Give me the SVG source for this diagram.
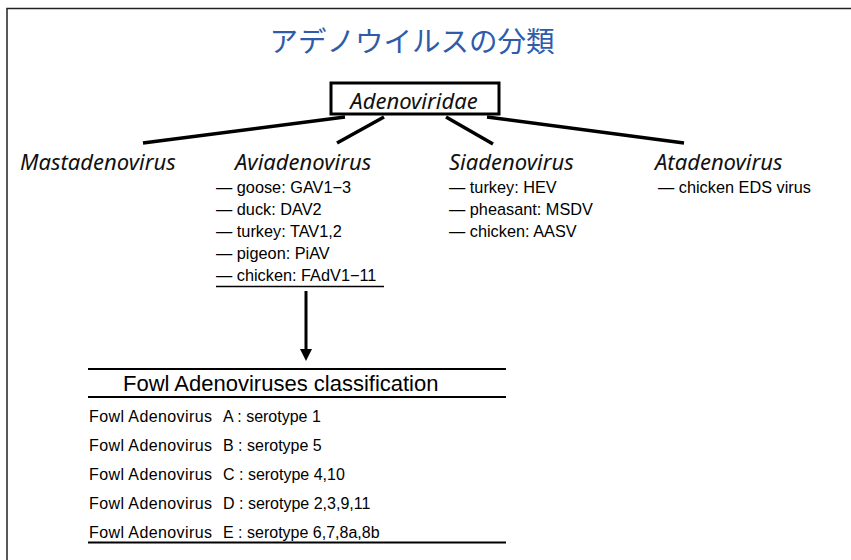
<svg xmlns="http://www.w3.org/2000/svg" width="851" height="560" viewBox="0 0 851 560">
<style>
.title{font-family:"Noto Sans CJK JP","Noto Sans",sans-serif;font-size:28.5px;fill:#2F5BAA}
.genus{font-family:"Noto Sans","Open Sans",sans-serif;font-style:italic;font-size:22px;fill:#111}
.item{font-family:"Liberation Sans",Arial,sans-serif;font-size:16.3px;fill:#000}
.row{font-family:"Liberation Sans",Arial,sans-serif;font-size:16px;fill:#000}
.row .n{letter-spacing:0.4px}
.head{font-family:"Liberation Sans",Arial,sans-serif;font-size:22px;fill:#000}
.conn{stroke:#000;stroke-width:3.5;fill:none}
.rule{stroke:#000;stroke-width:2;fill:none}
</style>
<defs>
<marker id="ah" markerWidth="4" markerHeight="4" refX="2" refY="2" orient="auto" markerUnits="strokeWidth" viewBox="0 0 4 4">
<path d="M0,0 L4,2 L0,4 Z" fill="#000"/>
</marker>
</defs>
<rect x="0" y="0" width="851" height="560" fill="#fff"/>
<path d="M7,560 V8.5 H851" stroke="#222" stroke-width="1.5" fill="none"/>
<text class="title" x="412" y="52" text-anchor="middle">アデノウイルスの分類</text>
<g id="adenoviridae">
<rect x="331" y="83" width="168" height="31" fill="#fff" stroke="#000" stroke-width="3"/>
<text class="genus" x="414" y="109" text-anchor="middle" font-size="27">Adenoviridae</text>
</g>
<g id="connectors">
<line class="conn" x1="345" y1="117" x2="143" y2="143"/>
<line class="conn" x1="384" y1="117" x2="337" y2="143"/>
<line class="conn" x1="446" y1="117" x2="493" y2="144"/>
<line class="conn" x1="487" y1="117" x2="684" y2="143"/>
<line x1="306" y1="291" x2="306" y2="355" stroke="#000" stroke-width="3" marker-end="url(#ah)"/>
</g>
<g id="mastadenovirus">
<text class="genus" x="20" y="170">Mastadenovirus</text>
</g>
<g id="aviadenovirus">
<text class="genus" x="235" y="170">Aviadenovirus</text>
<text class="item" x="216" y="193">― goose: GAV1−3</text>
<text class="item" x="216" y="215">― duck: DAV2</text>
<text class="item" x="216" y="237">― turkey: TAV1,2</text>
<text class="item" x="216" y="259">― pigeon: PiAV</text>
<text class="item" x="216" y="281">― chicken: FAdV1−11</text>
<line x1="216" y1="286.5" x2="384" y2="286.5" stroke="#000" stroke-width="1.5"/>
</g>
<g id="siadenovirus">
<text class="genus" x="449" y="170">Siadenovirus</text>
<text class="item" x="449" y="193">― turkey: HEV</text>
<text class="item" x="449" y="215">― pheasant: MSDV</text>
<text class="item" x="449" y="237">― chicken: AASV</text>
</g>
<g id="atadenovirus">
<text class="genus" x="655" y="170">Atadenovirus</text>
<text class="item" x="658" y="193">― chicken EDS virus</text>
</g>
<g id="fowl-table">
<line class="rule" x1="88" y1="369" x2="506" y2="369"/>
<text class="head" x="123" y="391">Fowl Adenoviruses classification</text>
<line class="rule" x1="88" y1="397" x2="506" y2="397"/>
<text class="row" x="89" y="422"><tspan class="n">Fowl Adenovirus</tspan><tspan x="223">A : serotype 1</tspan></text>
<text class="row" x="89" y="451"><tspan class="n">Fowl Adenovirus</tspan><tspan x="223">B : serotype 5</tspan></text>
<text class="row" x="89" y="480"><tspan class="n">Fowl Adenovirus</tspan><tspan x="223">C : serotype 4,10</tspan></text>
<text class="row" x="89" y="509"><tspan class="n">Fowl Adenovirus</tspan><tspan x="223">D : serotype 2,3,9,11</tspan></text>
<text class="row" x="89" y="538"><tspan class="n">Fowl Adenovirus</tspan><tspan x="223">E : serotype 6,7,8a,8b</tspan></text>
<line class="rule" x1="88" y1="542.5" x2="506" y2="542.5"/>
</g>
</svg>
